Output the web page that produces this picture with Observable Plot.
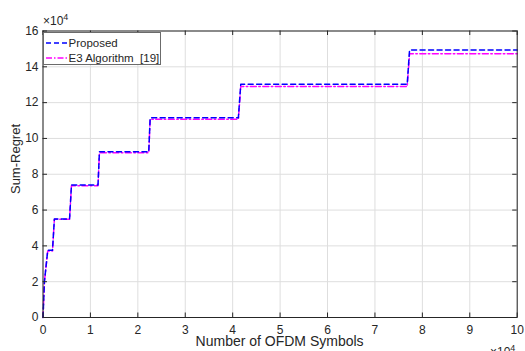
<!DOCTYPE html>
<html><head><meta charset="utf-8">
<script src="https://cdn.jsdelivr.net/npm/d3@7"></script>
<script src="https://cdn.jsdelivr.net/npm/@observablehq/plot@0.6"></script>
<style>
body{margin:0;background:#fff;font-family:"Liberation Sans",Arial,sans-serif;color:#262626;}
#wrap{position:relative;width:525px;height:351px;overflow:hidden;background:#fff;}
.abs{position:absolute;white-space:nowrap;line-height:1;}
#legend{position:absolute;left:42.5px;top:32px;width:116px;height:31px;border:1px solid #6b6b6b;background:#fff;font-size:11.5px;}
.entry{position:absolute;left:2px;height:14px;display:flex;align-items:center;white-space:pre;width:115px;}
.entry span{margin-left:1px;white-space:pre;}
</style></head><body><div id="wrap"></div>
<script>
// Data (x: number of OFDM symbols, y: sum-regret)
const symbols  = [0, 300, 1000, 2000, 2400, 5600, 6000, 11600, 11900, 22300, 22600, 41200, 41700, 76800, 77300, 100000];
const proposed = [0, 20000, 37500, 37500, 55000, 55000, 74000, 74000, 92500, 92500, 111600, 111600, 130200, 130200, 149400, 149400];
const e3       = [0, 20000, 37200, 37200, 54800, 54800, 73600, 73600, 92000, 92000, 110700, 110700, 129000, 129000, 147300, 147300];
const seriesNames = ["Proposed", "E3 Algorithm  [19]"];
const xTicks = [0, 10000, 20000, 30000, 40000, 50000, 60000, 70000, 80000, 90000, 100000];
const yTicks = [0, 20000, 40000, 60000, 80000, 100000, 120000, 140000, 160000];

const W = 525, H = 351, mL = 42.5, mR = 8.3, mT = 30.5, mB = 34;
const xDomain = [0, 100000], yDomain = [0, 160000];
const tickPx = 4.5;
const kx = (xDomain[1] - xDomain[0]) / (W - mL - mR) * tickPx;
const ky = (yDomain[1] - yDomain[0]) / (H - mT - mB) * tickPx;

const propRows = symbols.map((s, i) => ({x: s, y: proposed[i]}));
const e3Rows = symbols.map((s, i) => ({x: s, y: e3[i]}));
const axisColor = "#262626";

const chart = Plot.plot({
  width: W, height: H,
  marginLeft: mL, marginRight: mR, marginTop: mT, marginBottom: mB,
  style: {fontFamily: '"Liberation Sans", Arial, sans-serif', fontSize: "12px", color: axisColor, background: "white"},
  x: {domain: xDomain},
  y: {domain: yDomain},
  marks: [
    Plot.gridX(xTicks, {stroke: "#dedede", strokeOpacity: 1, strokeWidth: 1}),
    Plot.gridY(yTicks, {stroke: "#dedede", strokeOpacity: 1, strokeWidth: 1}),
    Plot.axisX(xTicks, {tickSize: 0, tickPadding: 8, tickFormat: d => String(d / 10000), label: null, fill: axisColor, fontSize: 12}),
    Plot.axisY(yTicks, {tickSize: 0, tickPadding: 4.5, tickFormat: d => String(d / 10000), label: null, fill: axisColor, fontSize: 12}),
    Plot.line(e3Rows, {x: "x", y: "y", stroke: "#ff00ff", strokeWidth: 1.5, strokeDasharray: "6,2.5,1.5,2.5"}),
    Plot.line(propRows, {x: "x", y: "y", stroke: "#0000ff", strokeWidth: 1.5, strokeDasharray: "5,3.5"}),
    Plot.ruleX(xTicks, {x: d => d, y1: yDomain[0], y2: yDomain[0] + ky, stroke: axisColor}),
    Plot.ruleX(xTicks, {x: d => d, y1: yDomain[1], y2: yDomain[1] - ky, stroke: axisColor}),
    Plot.ruleY(yTicks, {y: d => d, x1: xDomain[0], x2: xDomain[0] + kx, stroke: axisColor}),
    Plot.ruleY(yTicks, {y: d => d, x1: xDomain[1], x2: xDomain[1] - kx, stroke: axisColor}),
    Plot.frame({stroke: axisColor, strokeWidth: 1})
  ]
});

const wrap = document.getElementById("wrap");
wrap.appendChild(chart);

function addDiv(html, css) {
  const d = document.createElement("div");
  d.className = "abs";
  d.innerHTML = html;
  Object.assign(d.style, css);
  wrap.appendChild(d);
  return d;
}
// y label
addDiv("Sum-Regret", {left: "14.5px", top: "159px", fontSize: "13px", transform: "translate(-50%,-50%) rotate(-90deg)"});
// x label
addDiv("Number of OFDM Symbols", {left: "279.6px", top: "335px", fontSize: "14px", lineHeight: "12px", transform: "translateX(-50%)"});
// exponents
addDiv('&times;10<sup style="font-size:9px;vertical-align:5px">4</sup>', {left: "43px", top: "13px", fontSize: "12px"});
addDiv('&times;10<sup style="font-size:9px;vertical-align:5px">4</sup>', {left: "490px", top: "344px", fontSize: "12px"});

// legend
const legend = document.createElement("div");
legend.id = "legend";
legend.innerHTML = `
<div class="entry" style="top:3px"><svg width="22" height="4"><line x1="0" y1="2" x2="22" y2="2" stroke="#0000ff" stroke-width="1.4" stroke-dasharray="5,3"/></svg><span>${seriesNames[0]}</span></div>
<div class="entry" style="top:18px"><svg width="22" height="4"><line x1="0" y1="2" x2="22" y2="2" stroke="#ff00ff" stroke-width="1.4" stroke-dasharray="6,2,1.5,2"/></svg><span>${seriesNames[1]}</span></div>`;
wrap.appendChild(legend);
</script>
</body></html>
